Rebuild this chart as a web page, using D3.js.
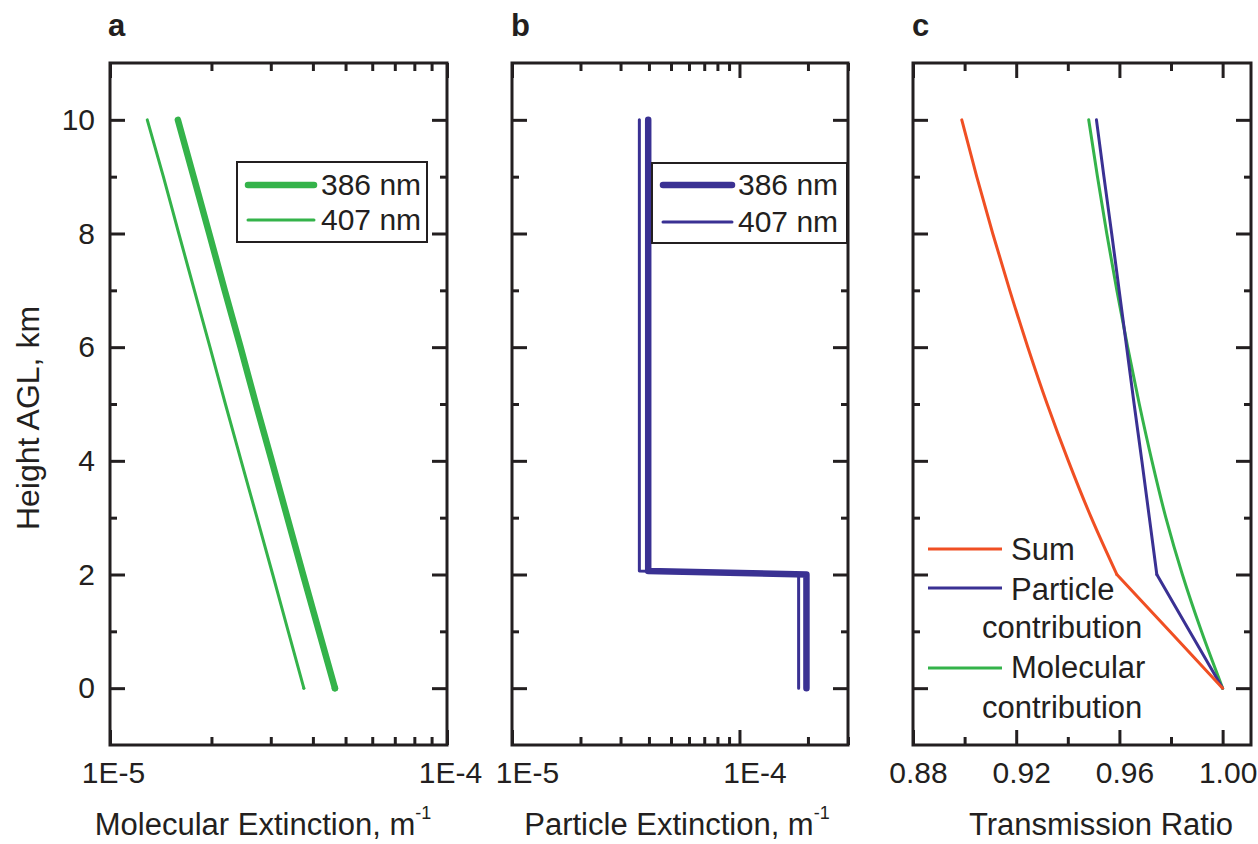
<!DOCTYPE html>
<html><head><meta charset="utf-8">
<script src="https://cdn.jsdelivr.net/npm/d3@7"></script>
<style>
html,body{margin:0;padding:0;background:#fff;}
svg{display:block;font-family:"Liberation Sans",Arial,Helvetica,sans-serif;}
</style></head>
<body>
<svg id="chart" width="1258" height="844"></svg>
<script>
// ---------------- data ----------------
const heightsMol = [0,1,2,3,4,5,6,7,8,9,10];          // km
const molExt386 = [4.65e-5,4.17e-5,3.74e-5,3.36e-5,3.02e-5,2.71e-5,2.44e-5,2.19e-5,1.97e-5,1.77e-5,1.59e-5];
const molExt407 = [3.76e-5,3.38e-5,3.04e-5,2.73e-5,2.45e-5,2.20e-5,1.98e-5,1.78e-5,1.60e-5,1.44e-5,1.29e-5];

const heightsPart = [0,2,2.06,10];
const partExt386 = [1.97e-4,1.97e-4,3.97e-5,3.97e-5];
const partExt407 = [1.82e-4,1.82e-4,3.63e-5,3.63e-5];

const heightsTr = [0,1,2,3,4,5,6,7,8,9,10];
const trSum = [1.0,0.9795,0.9590,0.9491,0.9402,0.9320,0.9245,0.9175,0.9109,0.9047,0.8989];
const trParticle = [1.0,0.9872,0.9745,0.9716,0.9687,0.9657,0.9628,0.9599,0.9570,0.9540,0.9511];
const trMolecular = [1.0,0.9918,0.9844,0.9780,0.9726,0.9677,0.9632,0.9590,0.9551,0.9515,0.9481];

const yMajorTicks = [0,2,4,6,8,10];
const yMinorTicks = [1,3,5,7,9];
const trMajorTicks = [0.88,0.92,0.96,1.00];
const trMinorTicks = [0.90,0.94,0.98];
const panelLetters = ["a","b","c"];
const xTitles = ["Molecular Extinction, m","Particle Extinction, m","Transmission Ratio"];
const legendMol = ["386 nm","407 nm"];
const legendTr = [["Sum"],["Particle","contribution"],["Molecular","contribution"]];

// ---------------- style ----------------
const INK = "#231f20";
const GREEN = "#34b34a";
const BLUE = "#3a3193";
const RED = "#f04f23";
const FS = 30;      // tick labels, legends
const FT = 31;      // axis titles
const PTOP = 63, PBOT = 745;

const svg = d3.select("#chart");
svg.append("rect").attr("width",1258).attr("height",844).attr("fill","#fff");

const y = d3.scaleLinear().domain([-1,11]).range([PBOT,PTOP]);

const xa = d3.scaleLog().domain([1e-5,1e-4]).range([110,447]);
const xb = d3.scaleLog().domain([1e-5,3e-4]).range([512,848]);
const xc = d3.scaleLinear().domain([0.88,1.011]).range([913,1251]);

function styleAxis(g, dx){
  g.select(".domain").remove();
  g.selectAll(".tick line").attr("stroke",INK).attr("stroke-width",3);
  g.selectAll(".tick text").attr("fill",INK).attr("font-size",FS)
    .attr("font-family","Liberation Sans, Arial, sans-serif");
  if(dx) g.selectAll(".tick text").attr("dx",dx);
}

function drawFrame(x, labelFmt, majorX, minorX, labelDx){
  const [x0,x1] = x.range();
  const left = svg.append("g").attr("transform",`translate(${x0},0)`);
  left.call(d3.axisLeft(y).tickValues(yMajorTicks).tickSize(-15).tickPadding(15)
      .tickFormat(labelFmt.yLabels ? d3.format("d") : ""));
  styleAxis(left);
  const leftMin = svg.append("g").attr("transform",`translate(${x0},0)`);
  leftMin.call(d3.axisLeft(y).tickValues(yMinorTicks).tickSize(-7).tickFormat(""));
  styleAxis(leftMin);
  const right = svg.append("g").attr("transform",`translate(${x1},0)`);
  right.call(d3.axisRight(y).tickValues(yMajorTicks).tickSize(-15).tickFormat(""));
  styleAxis(right);
  const rightMin = svg.append("g").attr("transform",`translate(${x1},0)`);
  rightMin.call(d3.axisRight(y).tickValues(yMinorTicks).tickSize(-7).tickFormat(""));
  styleAxis(rightMin);

  const bot = svg.append("g").attr("transform",`translate(0,${PBOT})`);
  bot.call(d3.axisBottom(x).tickValues(majorX).tickSize(-15).tickPadding(17).tickFormat(labelFmt.x));
  styleAxis(bot, labelDx);
  const botMin = svg.append("g").attr("transform",`translate(0,${PBOT})`);
  botMin.call(d3.axisBottom(x).tickValues(minorX).tickSize(-8).tickFormat(""));
  styleAxis(botMin);
  const tp = svg.append("g").attr("transform",`translate(0,${PTOP})`);
  tp.call(d3.axisTop(x).tickValues(majorX).tickSize(-15).tickFormat(""));
  styleAxis(tp);
  const tpMin = svg.append("g").attr("transform",`translate(0,${PTOP})`);
  tpMin.call(d3.axisTop(x).tickValues(minorX).tickSize(-8).tickFormat(""));
  styleAxis(tpMin);

  svg.append("rect").attr("x",x0).attr("y",PTOP).attr("width",x1-x0).attr("height",PBOT-PTOP)
    .attr("fill","none").attr("stroke",INK).attr("stroke-width",3);
}

const expFmt = d => { const e = Math.round(Math.log10(d)); return "1E" + e; };

function logTicks(x){
  const t = x.ticks();
  const major = t.filter(v => Math.abs(Math.log10(v) - Math.round(Math.log10(v))) < 1e-9);
  const minor = t.filter(v => !major.includes(v));
  return {major, minor};
}

const ta = logTicks(xa);
drawFrame(xa, {yLabels:true, x: expFmt}, ta.major, ta.minor, 3);
const tb = logTicks(xb);
drawFrame(xb, {yLabels:false, x: expFmt}, tb.major, tb.minor, 15);
drawFrame(xc, {yLabels:false, x: d3.format(".2f")}, trMajorTicks, trMinorTicks, 5);

// lines: optional kink height where a smooth part meets a straight part
function drawLine(x, xs, ys, color, width, kink){
  const pts = xs.map((v,i)=>[v, ys[i]]);
  const gen = (curve) => d3.line().x(d=>x(d[0])).y(d=>y(d[1])).curve(curve);
  const draw = (data, curve) => svg.append("path").datum(data)
    .attr("d", gen(curve))
    .attr("fill","none").attr("stroke",color).attr("stroke-width",width)
    .attr("stroke-linecap","round").attr("stroke-linejoin","round");
  if(kink === undefined){ draw(pts, d3.curveLinear); return; }
  draw(pts.filter(d=>d[1] <= kink), d3.curveLinear);
  draw(pts.filter(d=>d[1] >= kink), d3.curveMonotoneY);
}
drawLine(xa, molExt407, heightsMol, GREEN, 3, 0);
drawLine(xa, molExt386, heightsMol, GREEN, 6.5, 0);
drawLine(xb, partExt407, heightsPart, BLUE, 3);
drawLine(xb, partExt386, heightsPart, BLUE, 6.5);
drawLine(xc, trMolecular, heightsTr, GREEN, 3, 0);
drawLine(xc, trParticle, heightsTr, BLUE, 3, 2);
drawLine(xc, trSum, heightsTr, RED, 3, 2);

[[108,36],[511,36],[912,36]].forEach((p,i)=>{
  svg.append("text").attr("x",p[0]).attr("y",p[1]).attr("font-size",31).attr("font-weight","bold")
    .attr("fill",INK).text(panelLetters[i]);
});

function xTitle(cx, txt, sup){
  const t = svg.append("text").attr("x",cx).attr("y",835).attr("text-anchor","middle")
    .attr("font-size",FT).attr("fill",INK);
  t.append("tspan").text(txt);
  if(sup){ t.append("tspan").attr("font-size",18).attr("dy",-16).text("-1"); }
}
xTitle(263, xTitles[0], true);
xTitle(677, xTitles[1], true);
xTitle(1101, xTitles[2], false);

svg.append("text").attr("transform","translate(39,418) rotate(-90)").attr("text-anchor","middle")
  .attr("font-size",32).attr("fill",INK).text("Height AGL, km");

function boxLegend(bx0,bx1,by0,by1,lx0,lx1,rowsY,textX,color){
  svg.append("rect").attr("x",bx0).attr("y",by0).attr("width",bx1-bx0).attr("height",by1-by0)
    .attr("fill","#fff").attr("stroke",INK).attr("stroke-width",2);
  [6.5,3].forEach((w,i)=>{
    svg.append("line").attr("x1",lx0).attr("x2",lx1).attr("y1",rowsY[i]).attr("y2",rowsY[i])
      .attr("stroke",color).attr("stroke-width",w).attr("stroke-linecap","round");
    svg.append("text").attr("x",textX).attr("y",rowsY[i]+10).attr("font-size",FS).attr("fill",INK)
      .text(legendMol[i]);
  });
}
boxLegend(237,427,162,242,248,314,[185,220],321,GREEN);
boxLegend(652,847,163,243,663,732,[185,222],738,BLUE);

const legC = [
  {color:RED, ly:549, lines:[[1011,560]]},
  {color:BLUE, ly:588, lines:[[1011,600],[982,638]]},
  {color:GREEN, ly:668, lines:[[1011,678],[982,718]]}
];
legC.forEach((e,i)=>{
  svg.append("line").attr("x1",928).attr("x2",1002).attr("y1",e.ly).attr("y2",e.ly)
    .attr("stroke",e.color).attr("stroke-width",3);
  e.lines.forEach((p,j)=>{
    svg.append("text").attr("x",p[0]).attr("y",p[1]).attr("font-size",31).attr("fill",INK)
      .text(legendTr[i][j]);
  });
});
</script>
</body></html>
